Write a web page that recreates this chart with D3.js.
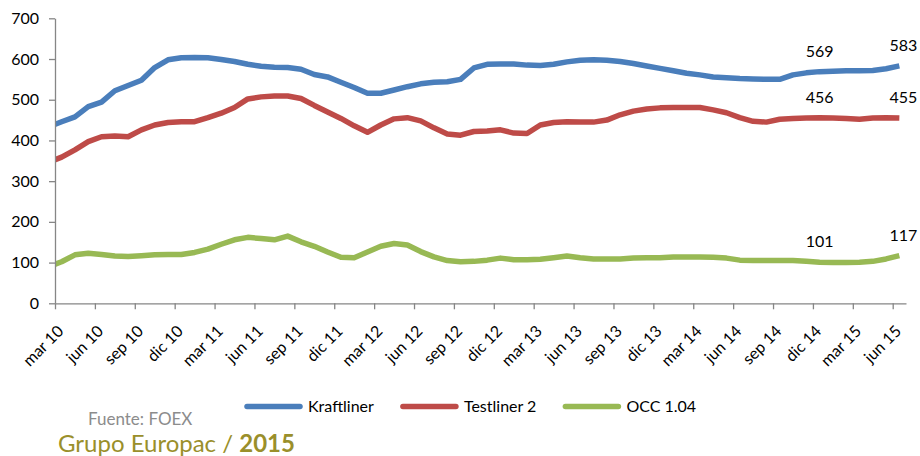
<!DOCTYPE html>
<html>
<head>
<meta charset="utf-8">
<script src="https://cdn.jsdelivr.net/npm/d3@7"></script>
<style>
  body { margin: 0; background: #fff; }
  text { font-family: Lato, 'Open Sans', sans-serif; }
</style>
</head>
<body>
<div id="chart"></div>
<script>
// monthly prices, feb 10 .. jun 15 (feb 10 only feeds the clipped first segment)
const months = [
  'feb 10', 'mar 10', 'abr 10', 'may 10', 'jun 10', 'jul 10', 'ago 10', 'sep 10', 'oct 10', 'nov 10', 'dic 10',
  'ene 11', 'feb 11', 'mar 11', 'abr 11', 'may 11', 'jun 11', 'jul 11', 'ago 11', 'sep 11', 'oct 11', 'nov 11', 'dic 11',
  'ene 12', 'feb 12', 'mar 12', 'abr 12', 'may 12', 'jun 12', 'jul 12', 'ago 12', 'sep 12', 'oct 12', 'nov 12', 'dic 12',
  'ene 13', 'feb 13', 'mar 13', 'abr 13', 'may 13', 'jun 13', 'jul 13', 'ago 13', 'sep 13', 'oct 13', 'nov 13', 'dic 13',
  'ene 14', 'feb 14', 'mar 14', 'abr 14', 'may 14', 'jun 14', 'jul 14', 'ago 14', 'sep 14', 'oct 14', 'nov 14', 'dic 14',
  'ene 15', 'feb 15', 'mar 15', 'abr 15', 'may 15', 'jun 15'
];

const kraftliner = [
  433, 446, 458, 483, 494, 522, 535, 548, 579, 598, 603,
  604, 603, 599, 594, 587, 582, 580, 579, 575, 562, 556, 543,
  530, 516, 516, 524, 532, 539, 543, 544, 550, 578, 587, 588,
  588, 585, 584, 587, 593, 597, 598, 597, 594, 589, 583, 577,
  571, 565, 561, 556, 554, 552, 551, 550, 550, 561, 566, 569,
  570, 571, 571, 572, 576, 583
];

const testliner = [
  346, 359, 377, 397, 409, 411, 409, 426, 438, 444, 446,
  446, 456, 467, 481, 502, 507, 509, 509, 503, 486, 470, 454,
  436, 420, 438, 453, 456, 448, 431, 416, 413, 422, 423, 426,
  418, 417, 438, 444, 446, 445, 445, 450, 463, 472, 477, 480,
  481, 481, 481, 475, 468, 456, 447, 445, 452, 454, 455, 456,
  455, 454, 452, 455, 456, 455
];

const occ = [
  90, 102, 119, 123, 120, 116, 115, 117, 119, 120, 120,
  125, 133, 145, 156, 162, 159, 156, 165, 151, 140, 126, 113,
  112, 126, 140, 147, 143, 127, 114, 105, 102, 103, 106, 111,
  107, 107, 108, 112, 116, 112, 109, 109, 109, 111, 112, 112,
  114, 114, 114, 113, 111, 106, 105, 105, 105, 105, 103, 101,
  100, 100, 101, 103, 109, 117
];

const tickLabels = [
  'mar 10', 'jun 10', 'sep 10', 'dic 10', 'mar 11', 'jun 11', 'sep 11', 'dic 11',
  'mar 12', 'jun 12', 'sep 12', 'dic 12', 'mar 13', 'jun 13', 'sep 13', 'dic 13',
  'mar 14', 'jun 14', 'sep 14', 'dic 14', 'mar 15', 'jun 15'
];
const yTicks = [0, 100, 200, 300, 400, 500, 600, 700];
const labeledMonths = ['dic 14', 'jun 15'];

const seriesNames = ['Kraftliner', 'Testliner 2', 'OCC 1.04'];
const seriesColors = ['#4a7ebb', '#be4b48', '#98b954'];
const series = [kraftliner, testliner, occ].map((values, i) => ({
  name: seriesNames[i], color: seriesColors[i], values,
}));

const svg = d3.select('#chart').append('svg')
  .attr('width', 920)
  .attr('height', 456);

// x in months since 1 mar 2010: ticks on month start, prices mid-month
const x = d3.scaleLinear().domain([0, 64]).range([55, 906]);
const y = d3.scaleLinear().domain([0, 700]).range([303.3, 18.3]);
const monthPos = (i) => i - 0.5;
const tickPos = tickLabels.map((t) => months.indexOf(t) - 1);

svg.append('defs').append('clipPath')
  .attr('id', 'plot')
  .append('rect')
  .attr('x', x(0))
  .attr('y', 0)
  .attr('width', x(64) - x(0))
  .attr('height', 456);

const line = d3.line()
  .x((d, i) => x(monthPos(i)))
  .y((d) => y(d));

svg.append('g')
  .attr('clip-path', 'url(#plot)')
  .selectAll('path')
  .data(series)
  .enter().append('path')
  .attr('d', (d) => line(d.values))
  .attr('fill', 'none')
  .attr('stroke', (d) => d.color)
  .attr('stroke-width', 5.5)
  .attr('stroke-linejoin', 'round');

// y axis
const yAxis = svg.append('g')
  .attr('transform', `translate(${x(0)},0)`)
  .call(d3.axisLeft(y).tickValues(yTicks).tickSize(6).tickSizeOuter(0).tickPadding(10));

// x axis
const xAxis = svg.append('g')
  .attr('transform', `translate(0,${y(0)})`)
  .call(d3.axisBottom(x)
    .tickValues(tickPos)
    .tickSize(6)
    .tickSizeOuter(0)
    .tickFormat((d, i) => tickLabels[i]));

xAxis.selectAll('text')
  .attr('x', 0)
  .attr('y', 0)
  .attr('dy', 0)
  .attr('text-anchor', 'end')
  .attr('transform', 'translate(9,29) rotate(-45)');

[xAxis, yAxis].forEach((g) => {
  g.selectAll('path, line').attr('stroke', '#868686').attr('stroke-width', 1.3);
  g.selectAll('text')
    .attr('font-family', 'Lato, sans-serif')
    .attr('font-size', '16px')
    .attr('fill', '#000');
});

// data labels
series.forEach((s) => {
  labeledMonths.forEach((m) => {
    const i = months.indexOf(m);
    svg.append('text')
      .attr('x', x(monthPos(i)) + (i === months.length - 1 ? 4 : 0))
      .attr('y', y(s.values[i]) - 15)
      .attr('text-anchor', 'middle')
      .attr('font-size', '16px')
      .attr('fill', '#000')
      .text(s.values[i]);
  });
});

// legend
let lx = 245;
series.forEach((s) => {
  svg.append('line')
    .attr('x1', lx + 2)
    .attr('x2', lx + 55)
    .attr('y1', 406.5)
    .attr('y2', 406.5)
    .attr('stroke', s.color)
    .attr('stroke-width', 5.5)
    .attr('stroke-linecap', 'round');
  const t = svg.append('text')
    .attr('x', lx + 63)
    .attr('y', 412)
    .attr('font-size', '16px')
    .attr('fill', '#000')
    .text(s.name);
  lx += 63 + t.node().getComputedTextLength() + 27;
});

svg.append('text')
  .attr('x', 88)
  .attr('y', 425)
  .attr('font-size', '17px')
  .attr('fill', '#8c8c8c')
  .text('Fuente: FOEX');

const credit = svg.append('text')
  .attr('x', 58)
  .attr('y', 451.5)
  .attr('font-size', '24px')
  .attr('fill', '#9a8f2b');
credit.append('tspan').text('Grupo Europac / ');
credit.append('tspan').attr('font-weight', 'bold').text('2015');
</script>
</body>
</html>
